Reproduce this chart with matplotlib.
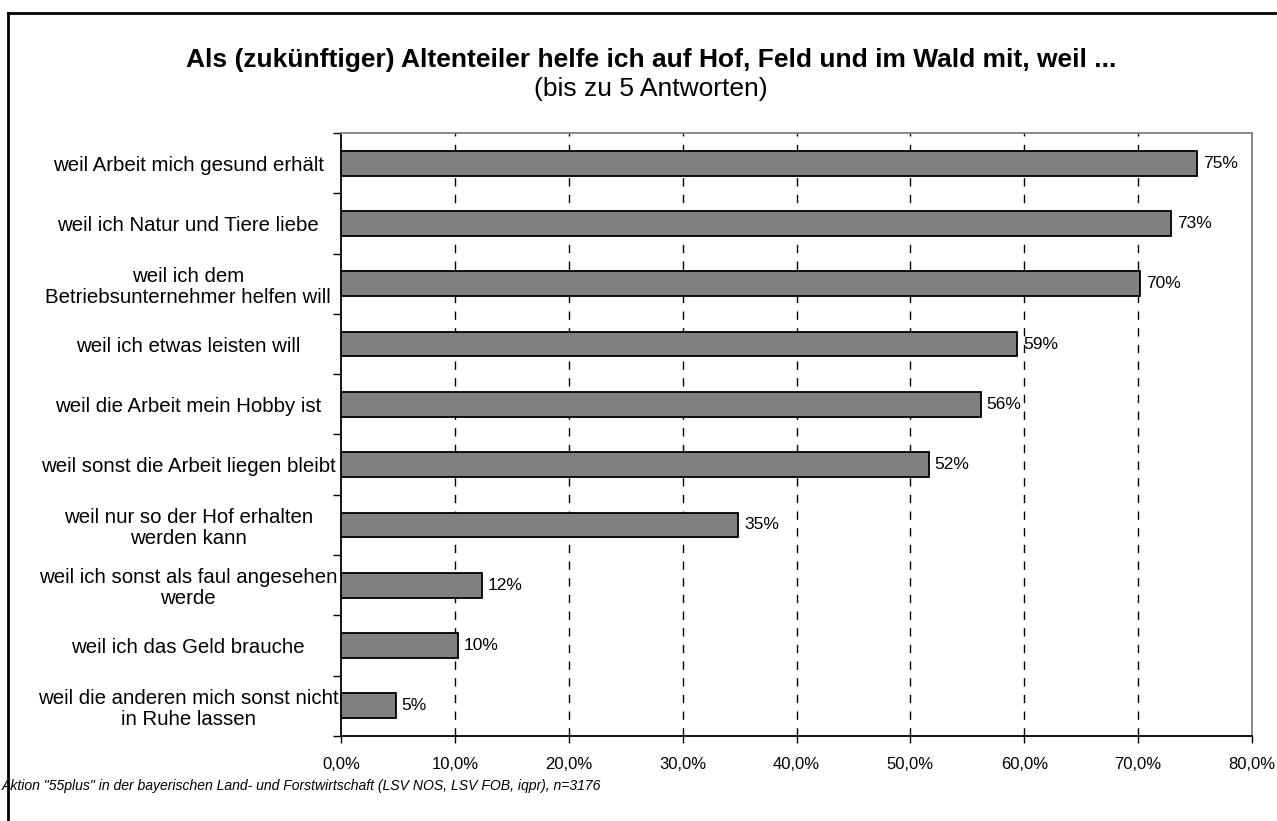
import numpy as np
import matplotlib
matplotlib.use('Agg')
import matplotlib.pyplot as plt
from matplotlib.ticker import FuncFormatter
from matplotlib.lines import Line2D

plt.rcParams['font.family'] = ['Liberation Sans', 'DejaVu Sans']

# Daten
labels = ['weil Arbeit mich gesund erhält',
          'weil ich Natur und Tiere liebe',
          'weil ich dem\nBetriebsunternehmer helfen will',
          'weil ich etwas leisten will',
          'weil die Arbeit mein Hobby ist',
          'weil sonst die Arbeit liegen bleibt',
          'weil nur so der Hof erhalten\nwerden kann',
          'weil ich sonst als faul angesehen\nwerde',
          'weil ich das Geld brauche',
          'weil die anderen mich sonst nicht\nin Ruhe lassen']
values = [75.2, 72.9, 70.2, 59.4, 56.2, 51.6, 34.9, 12.4, 10.3, 4.8]
value_labels = ['75%', '73%', '70%', '59%', '56%', '52%', '35%', '12%', '10%', '5%']
xticks = [0, 10, 20, 30, 40, 50, 60, 70, 80]

fig = plt.figure(figsize=(12.77, 8.21), dpi=100)
ax = fig.add_axes([341 / 1277, 1 - 736 / 821, (1252 - 341) / 1277, (736 - 133) / 821])

y = np.arange(len(labels))
ax.barh(y, values, height=0.41, color='#808080', edgecolor='black', linewidth=1.3, zorder=3)
for yi, v, t in zip(y, values, value_labels):
    ax.text(v + 0.5, yi, t, va='center', ha='left', fontsize=12.5, zorder=4)

ax.set_xlim(0, 80)
ax.set_ylim(len(labels) - 0.5, -0.5)
ax.set_xticks(xticks)
ax.xaxis.set_major_formatter(FuncFormatter(lambda v, p: ('%.1f%%' % v).replace('.', ',')))
ax.tick_params(axis='x', length=5, width=1, labelsize=12, pad=10)

ax.set_yticks(y)
ax.set_yticklabels(labels, fontsize=14.7, ha='center', linespacing=1.15)
ax.tick_params(axis='y', length=0, pad=110)
ax.set_yticks(np.arange(-0.5, len(labels), 1.0), minor=True)
ax.tick_params(axis='y', which='minor', length=6, width=1)

# gestrichelte Gitterlinien
for gx in xticks[1:-1]:
    ax.axvline(gx, color='black', linestyle=(0, (6, 6)), linewidth=1, zorder=1)

ax.spines['left'].set_color('black')
ax.spines['bottom'].set_color('black')
ax.spines['top'].set_color('#808080')
ax.spines['right'].set_color('#808080')
for s in ax.spines.values():
    s.set_linewidth(1.3)

fig.text(651 / 1277, 1 - 60 / 821, 'Als (zukünftiger) Altenteiler helfe ich auf Hof, Feld und im Wald mit, weil ...',
         ha='center', va='center', fontsize=19, fontweight='bold')
fig.text(651 / 1277, 1 - 89 / 821, '(bis zu 5 Antworten)', ha='center', va='center', fontsize=19)
fig.text(2 / 1277, 1 - 786 / 821,
         'Aktion "55plus" in der bayerischen Land- und Forstwirtschaft (LSV NOS, LSV FOB, iqpr), n=3176',
         ha='left', va='center', fontsize=10.1, style='italic')

# Rahmen
fig.add_artist(Line2D([8 / 1277, 8 / 1277], [0, 1 - 13 / 821], color='black', linewidth=2, transform=fig.transFigure))
fig.add_artist(Line2D([8 / 1277, 1], [1 - 13 / 821, 1 - 13 / 821], color='black', linewidth=2, transform=fig.transFigure))

fig.savefig('out.png', dpi=100)
